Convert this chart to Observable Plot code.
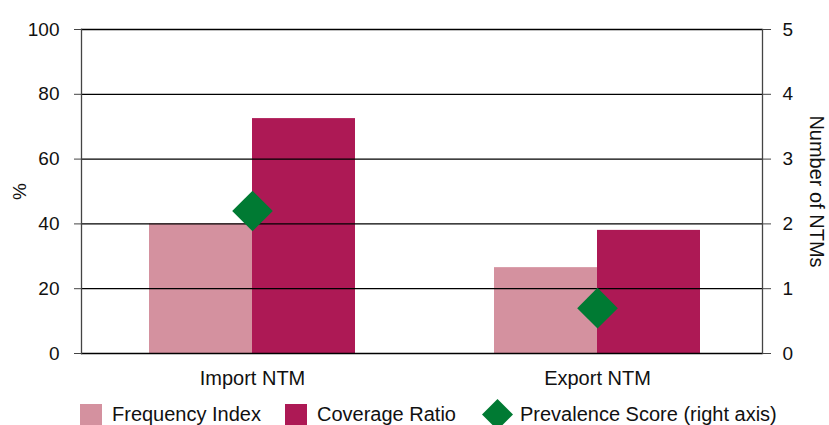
<!DOCTYPE html>
<html><head><meta charset="utf-8">
<script src="https://cdn.jsdelivr.net/npm/d3@7"></script>
<script src="https://cdn.jsdelivr.net/npm/@observablehq/plot@0.6"></script>
<style>
body{margin:0;background:#fff;font-family:"Liberation Sans",Arial,sans-serif;}
#chart{position:relative;width:829px;height:425px;overflow:hidden;}
.item{position:absolute;top:399px;height:30px;display:flex;align-items:center;font-size:20px;color:#111;white-space:nowrap;}
.sw{width:22px;height:21px;margin-right:10px;}
</style></head><body>
<div id="chart"></div>
<script>
const groups = ["Import NTM", "Export NTM"];
const frequencyIndex = [40, 26.5];
const coverageRatio = [72.5, 38];
const prevalenceScore = [2.2, 0.7];
const leftTicks = [0, 20, 40, 60, 80, 100];
const rightTicks = [0, 1, 2, 3, 4, 5];
const seriesNames = ["Frequency Index", "Coverage Ratio", "Prevalence Score (right axis)"];
const colors = ["#d4919f", "#ad1955", "#007a33"];
const leftMax = 100, rightMax = 5;
const ratio = leftMax / rightMax;

const data = groups.map((g, i) => ({group: g, fi: frequencyIndex[i], cr: coverageRatio[i], ps: prevalenceScore[i]}));

const chart = Plot.plot({
  width: 829,
  height: 395,
  marginLeft: 81,
  marginRight: 67,
  marginTop: 29,
  marginBottom: 42,
  style: {fontFamily: "'Liberation Sans', Arial, sans-serif", color: "#111", background: "#fff", overflow: "visible"},
  x: {type: "band", domain: groups, paddingInner: 0.403, paddingOuter: 0.1884, align: 0.523},
  y: {domain: [0, leftMax]},
  marks: [
    Plot.barY(data, {x: "group", y: "fi", fill: colors[0], insetRight: 103}),
    Plot.barY(data, {x: "group", y: "cr", fill: colors[1], insetLeft: 103}),
    Plot.ruleY(leftTicks, {stroke: "#000", strokeWidth: 1.3}),
    Plot.frame({anchor: "left", stroke: "#444", strokeWidth: 1.3}),
    Plot.frame({anchor: "right", stroke: "#444", strokeWidth: 1.3}),
    Plot.dot(data, {x: "group", y: d => d.ps * ratio, symbol: "diamond2", fill: colors[2], stroke: "none", r: 18.3}),
    Plot.axisY(leftTicks, {anchor: "left", tickSize: 7, tickPadding: 15, fontSize: 19, label: null, stroke: "#444"}),
    Plot.axisY(rightTicks.map(v => v * ratio), {anchor: "right", tickFormat: d => d / ratio, tickSize: 8, tickPadding: 12, fontSize: 19, label: null, stroke: "#444"}),
    Plot.axisX({tickSize: 0, tickPadding: 17, fontSize: 20, label: null}),
    Plot.text(["%"], {frameAnchor: "left", dx: -62, rotate: -90, textAnchor: "middle", lineAnchor: "middle", fontSize: 19, fill: "#111"}),
    Plot.text(["Number of NTMs"], {frameAnchor: "right", dx: 54, rotate: 90, textAnchor: "middle", lineAnchor: "middle", fontSize: 20, fill: "#111"})
  ]
});
const root = document.getElementById("chart");
root.appendChild(chart);

const lefts = [80, 285, 482];
seriesNames.forEach((name, i) => {
  const item = document.createElement("div");
  item.className = "item";
  item.style.left = lefts[i] + "px";
  if (i < 2) {
    const sw = document.createElement("div");
    sw.className = "sw";
    sw.style.background = colors[i];
    item.appendChild(sw);
  } else {
    const ns = "http://www.w3.org/2000/svg";
    const s = document.createElementNS(ns, "svg");
    s.setAttribute("width", 31); s.setAttribute("height", 31);
    s.style.marginRight = "7px";
    const p = document.createElementNS(ns, "polygon");
    p.setAttribute("points", "15.5,0 31,15.5 15.5,31 0,15.5");
    p.setAttribute("fill", colors[i]);
    s.appendChild(p);
    item.appendChild(s);
  }
  const t = document.createElement("span");
  t.textContent = name;
  item.appendChild(t);
  root.appendChild(item);
});
</script>
</body></html>
